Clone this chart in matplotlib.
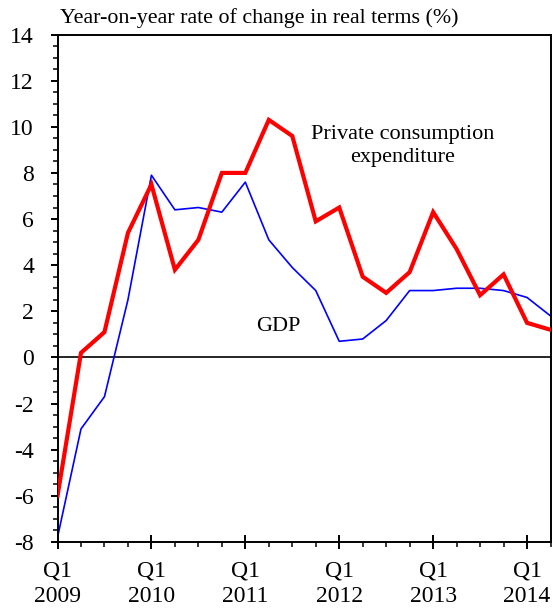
import numpy as np
import matplotlib.pyplot as plt
from matplotlib.ticker import MultipleLocator

plt.rcParams['font.family'] = ['Liberation Serif', 'DejaVu Serif']
plt.rcParams['axes.unicode_minus'] = False

# quarterly data, Q1 2009 .. Q2 2014
quarters = np.arange(22)
consumption = [-6.0, 0.2, 1.1, 5.4, 7.5, 3.8, 5.1, 8.0, 8.0, 10.3, 9.6,
               5.9, 6.5, 3.5, 2.8, 3.7, 6.3, 4.7, 2.7, 3.6, 1.5, 1.2]
gdp = [-7.8, -3.1, -1.7, 2.5, 7.9, 6.4, 6.5, 6.3, 7.6, 5.1, 3.9,
       2.9, 0.7, 0.8, 1.6, 2.9, 2.9, 3.0, 3.0, 2.9, 2.6, 1.8]
year_labels = ['Q1\n2009', 'Q1\n2010', 'Q1\n2011', 'Q1\n2012', 'Q1\n2013', 'Q1\n2014']

fig = plt.figure(figsize=(5.53, 6.12), dpi=100)
ax = fig.add_axes([0.104, 0.1144, 0.8915, 0.8292])

ax.axhline(0, color='black', lw=1.2, zorder=1)
ax.plot(quarters, gdp, color='#0000ff', lw=1.2, zorder=2)
ax.plot(quarters, consumption, color='#ff0000', lw=3.0, zorder=3, solid_joinstyle='miter')

ax.set_xlim(0, 21)
ax.set_ylim(-8, 14)
ax.yaxis.set_major_locator(MultipleLocator(2))
ax.yaxis.set_minor_locator(MultipleLocator(0.5))
ax.set_xticks(np.arange(0, 22, 4))
ax.set_xticklabels(year_labels)
ax.set_xticks(np.arange(22), minor=True)

for s in ax.spines.values():
    s.set_linewidth(1.4)

ax.tick_params(axis='y', which='major', direction='out', length=5, width=1.4,
               labelsize=17, pad=12)
ax.tick_params(axis='y', which='minor', direction='out', length=3.3, width=1.1)
ax.tick_params(axis='x', which='major', direction='inout', length=10, width=1.4,
               labelsize=17, pad=8)
ax.tick_params(axis='x', which='minor', direction='out', length=3.4, width=1.1)
for lab in ax.get_xticklabels():
    lab.set_linespacing(1.3)

fig.text(0.108, 0.971, 'Year-on-year rate of change in real terms (%)',
         fontsize=15.8, ha='left', va='center')
ax.text(14.7, 9.17, 'Private consumption\nexpenditure', fontsize=16,
        ha='center', va='center', linespacing=1.3)
ax.text(9.4, 1.33, 'GDP', fontsize=16, ha='center', va='center')

fig.savefig('out.png', dpi=100)
